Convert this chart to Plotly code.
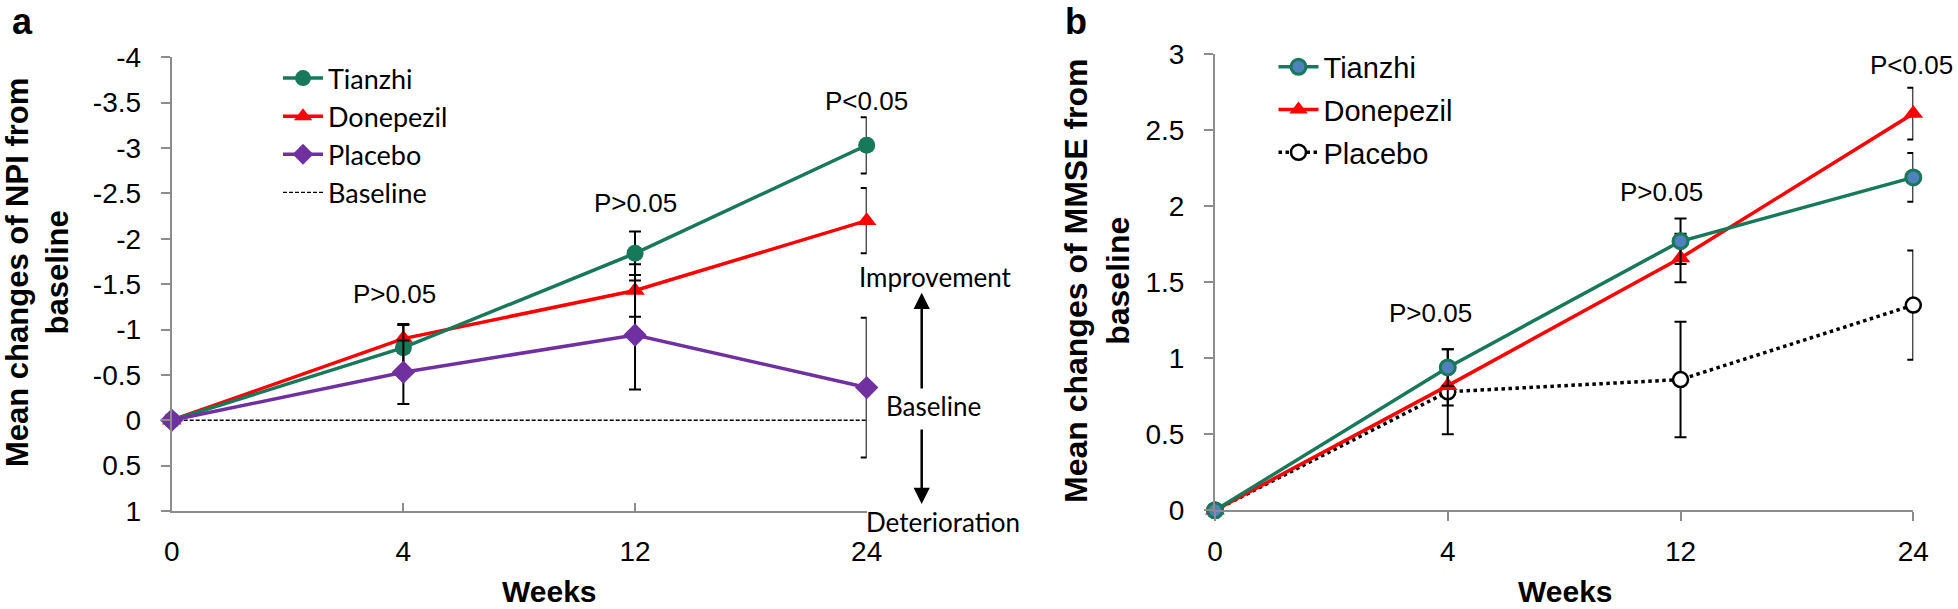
import plotly.graph_objects as go

# ---------------- data ----------------
weeks = ["0", "4", "12", "24"]

# Panel a: mean change of NPI from baseline (negative = improvement)
npi_tianzhi = [0, -0.80, -1.84, -3.03]
npi_tianzhi_err = [None, 0.25, 0.24, 0.31]
npi_donepezil = [0, -0.90, -1.43, -2.20]
npi_donepezil_err = [None, 0.16, 0.29, 0.36]
npi_placebo = [0, -0.53, -0.94, -0.36]
npi_placebo_err = [None, 0.35, 0.60, 0.77]
npi_baseline = [0, 0, 0, 0]

npi_ticks = [-4, -3.5, -3, -2.5, -2, -1.5, -1, -0.5, 0, 0.5, 1]
npi_ticktext = ["-4", "-3.5", "-3", "-2.5", "-2", "-1.5", "-1", "-0.5", "0", "0.5", "1"]

# Panel b: mean change of MMSE from baseline
mmse_tianzhi = [0, 0.94, 1.77, 2.19]
mmse_tianzhi_err = [None, 0.12, 0.15, 0.16]
mmse_donepezil = [0, 0.82, 1.66, 2.61]
mmse_donepezil_err = [None, 0.13, 0.16, 0.17]
mmse_placebo = [0, 0.78, 0.86, 1.35]
mmse_placebo_err = [None, 0.28, 0.38, 0.36]

mmse_ticks = [0, 0.5, 1, 1.5, 2, 2.5, 3]
mmse_ticktext = ["0", "0.5", "1", "1.5", "2", "2.5", "3"]

p_labels_a = ["P>0.05", "P>0.05", "P<0.05"]
p_labels_b = ["P>0.05", "P>0.05", "P<0.05"]

# ---------------- styles ----------------
W, H = 1958, 609
GREEN = "#17785A"
RED = "#FF0000"
PURPLE = "#7030A0"
BLUE = "#4F81BD"
AXIS_GRAY = "#8C8C8C"
ARIAL = "Liberation Sans, Arial, sans-serif"
CALIBRI = "Lato, Carlito, Calibri, sans-serif"


def err(arr):
    return dict(type="data", array=arr, visible=True, color="black",
                thickness=2, width=6)


fig = go.Figure()

# ----- panel a -----
fig.add_trace(go.Scatter(
    x=weeks, y=npi_baseline, name="Baseline", mode="lines",
    line=dict(color="black", width=1.3, dash="4px,2px"),
    xaxis="x", yaxis="y", legend="legend", legendrank=4, hoverinfo="skip"))
fig.add_trace(go.Scatter(
    x=weeks, y=npi_donepezil, name="Donepezil", mode="lines+markers",
    line=dict(color=RED, width=3.5),
    marker=dict(symbol="triangle-up", size=17, color=RED),
    error_y=err(npi_donepezil_err), cliponaxis=False,
    xaxis="x", yaxis="y", legend="legend", legendrank=2))
fig.add_trace(go.Scatter(
    x=weeks, y=npi_tianzhi, name="Tianzhi", mode="lines+markers",
    line=dict(color=GREEN, width=3.5),
    marker=dict(symbol="circle", size=17, color=GREEN),
    error_y=err(npi_tianzhi_err), cliponaxis=False,
    xaxis="x", yaxis="y", legend="legend", legendrank=1))
fig.add_trace(go.Scatter(
    x=weeks, y=npi_placebo, name="Placebo", mode="lines+markers",
    line=dict(color=PURPLE, width=3.5),
    marker=dict(symbol="diamond", size=18, color=PURPLE),
    error_y=err(npi_placebo_err), cliponaxis=False,
    xaxis="x", yaxis="y", legend="legend", legendrank=3))

# ----- panel b -----
fig.add_trace(go.Scatter(
    x=weeks, y=mmse_placebo, name="Placebo", mode="lines+markers",
    line=dict(color="black", width=3.5, dash="dot"),
    marker=dict(symbol="circle", size=15, color="white",
                line=dict(color="black", width=2.5)),
    error_y=err(mmse_placebo_err), cliponaxis=False, legendgroup="bp",
    xaxis="x2", yaxis="y2", legend="legend2", legendrank=3))
fig.add_trace(go.Scatter(
    x=weeks, y=mmse_donepezil, name="Donepezil", mode="lines+markers",
    line=dict(color=RED, width=3.5),
    marker=dict(symbol="triangle-up", size=17, color=RED),
    error_y=err(mmse_donepezil_err), cliponaxis=False, legendgroup="bd",
    xaxis="x2", yaxis="y2", legend="legend2", legendrank=2))
fig.add_trace(go.Scatter(
    x=weeks, y=mmse_tianzhi, name="Tianzhi", mode="lines+markers",
    line=dict(color=GREEN, width=3.5),
    marker=dict(symbol="circle", size=15, color=BLUE,
                line=dict(color=GREEN, width=3)),
    error_y=err(mmse_tianzhi_err), cliponaxis=False, legendgroup="bt",
    xaxis="x2", yaxis="y2", legend="legend2", legendrank=1))

axis_common = dict(showline=True, linecolor=AXIS_GRAY, linewidth=2,
                   showgrid=False, zeroline=False, tickcolor=AXIS_GRAY,
                   automargin=False,
                   tickwidth=2, tickfont=dict(family=ARIAL, size=28, color="black"))

fig.update_layout(
    width=W, height=H,
    margin=dict(l=0, r=0, t=0, b=0, autoexpand=False),
    paper_bgcolor="white", plot_bgcolor="white",
    font=dict(family=ARIAL, color="black"),
    showlegend=True,
    xaxis=dict(domain=[171.7 / W, 866.7 / W], anchor="y", type="category",
               range=[0, 3], ticks="inside", ticklen=8, ticklabelstandoff=14,
               **axis_common),
    yaxis=dict(domain=[1 - 511 / H, 1 - 57.3 / H], anchor="x",
               range=[1, -4], tickvals=npi_ticks, ticktext=npi_ticktext,
               ticks="outside", ticklen=9, ticklabelstandoff=14, **axis_common),
    xaxis2=dict(domain=[1215 / W, 1913.3 / W], anchor="y2", type="category",
                range=[0, 3], ticks="outside", ticklen=9, ticklabelstandoff=6,
                **axis_common),
    yaxis2=dict(domain=[1 - 510.3 / H, 1 - 54.3 / H], anchor="x2",
                range=[0, 3], tickvals=mmse_ticks, ticktext=mmse_ticktext,
                ticks="outside", ticklen=9, ticklabelstandoff=14, **axis_common),
    legend=dict(x=278 / W, y=1 - 54 / H, xanchor="left", yanchor="top",
                bgcolor="rgba(0,0,0,0)", font=dict(family=CALIBRI, size=27),
                itemwidth=40, tracegroupgap=0),
    legend2=dict(x=1273.5 / W, y=1 - 41.5 / H, xanchor="left", yanchor="top",
                 bgcolor="rgba(0,0,0,0)", font=dict(family=ARIAL, size=29),
                 itemwidth=40, traceorder="grouped", tracegroupgap=2),
)

ann = []


def txt(x, y, text, size, family=ARIAL, bold=False, angle=0,
        xanchor="center", yanchor="middle"):
    t = f"<b>{text}</b>" if bold else text
    ann.append(dict(x=x / W, y=1 - y / H, xref="paper", yref="paper", text=t,
                    showarrow=False, xanchor=xanchor, yanchor=yanchor,
                    borderpad=0, textangle=angle,
                    font=dict(family=family, size=size, color="black")))


# panel letters
txt(22, 0, "a", 36, bold=True, yanchor="top")
txt(1076, 0, "b", 36, bold=True, yanchor="top")

# axis titles
txt(549, 609, "Weeks", 30, bold=True, yanchor="bottom")
txt(1565, 609, "Weeks", 30, bold=True, yanchor="bottom")
txt(37, 273, "Mean changes of NPI from<br>baseline", 31, bold=True, angle=-90)
txt(1097, 281, "Mean changes of MMSE from<br>baseline", 32, bold=True, angle=-90)

# p-value labels
for (x, y), lab in zip([(394, 294), (635, 203), (866, 101)], p_labels_a):
    txt(x, y, lab, 26)
for (x, y), lab in zip([(1430, 313), (1661, 192), (1911, 65)], p_labels_b):
    txt(x, y, lab, 26)

# direction annotations
txt(935, 277, "Improvement", 26, family=CALIBRI)
txt(933, 406, "Baseline", 26, family=CALIBRI)
txt(943, 522, "Deterioration", 26, family=CALIBRI)

for tip_y, tail_y in [(292.7, 390), (504, 428)]:
    ann.append(dict(x=921.7 / W, y=1 - tip_y / H, xref="paper", yref="paper",
                    ax=0, ay=tail_y - tip_y, axref="pixel", ayref="pixel",
                    text="", showarrow=True, arrowhead=2, arrowsize=1.3,
                    arrowwidth=2.5, arrowcolor="black"))

fig.update_layout(annotations=ann)

fig.write_html("out.html",
               config={"displayModeBar": False},
               post_script="document.body.style.margin='0';"
                           "document.body.style.overflow='hidden';")
